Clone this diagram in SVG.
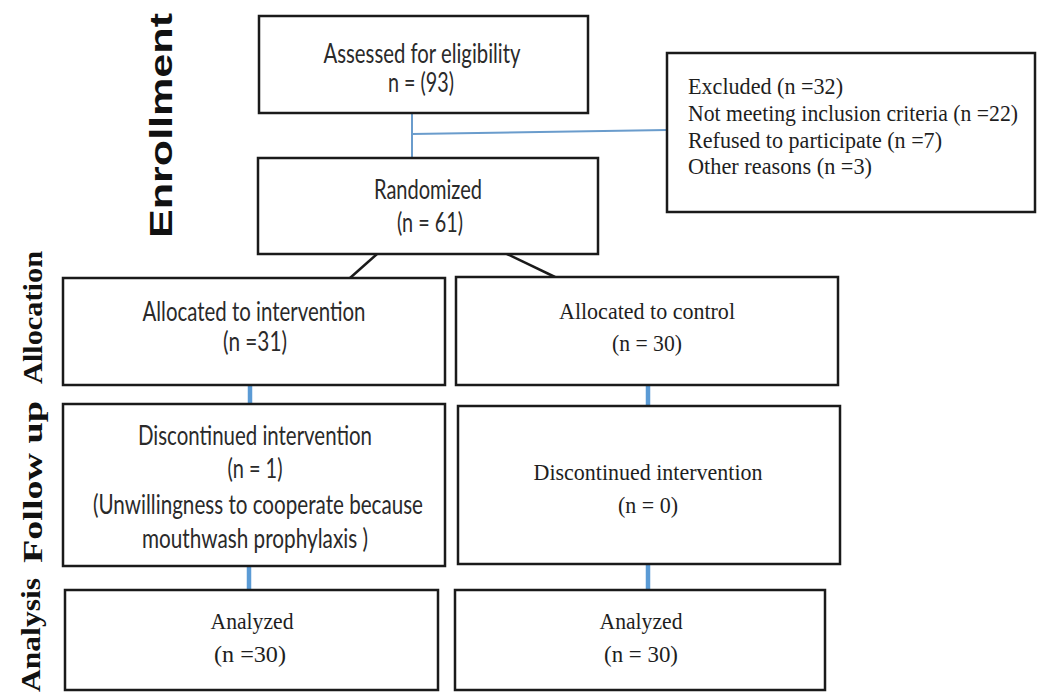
<svg xmlns="http://www.w3.org/2000/svg" width="1037" height="693" viewBox="0 0 1037 693">
<style>
.box{fill:#fff;stroke:#1a1a1a;stroke-width:2.5}
.sans{font-family:Lato,"Open Sans","Liberation Sans",sans-serif;font-size:26px;fill:#2a2a2a;text-anchor:middle}
.serif{font-family:"Liberation Serif","Times New Roman",serif;font-size:24px;fill:#1e1e1e;text-anchor:middle}
.exc{font-family:"Liberation Serif","Times New Roman",serif;font-size:24px;fill:#1e1e1e}
.side{font-family:"Liberation Serif","Times New Roman",serif;font-weight:bold;font-size:28px;fill:#111}
.enr{font-family:"Liberation Sans",Arial,sans-serif;font-weight:bold;font-size:31px;fill:#111}
.thin{stroke:#6a9ccc;stroke-width:2;fill:none}
.thick{stroke:#5b9bd5;stroke-width:4.5;fill:none}
.blk{stroke:#1a1a1a;stroke-width:2.5;fill:none}
</style>
<rect width="1037" height="693" fill="#fff"/>
<g id="labels">
<text class="enr" transform="translate(172,238) rotate(-90)" textLength="225" lengthAdjust="spacingAndGlyphs">Enrollment</text>
<text class="side" transform="translate(42,384) rotate(-90)" textLength="133" lengthAdjust="spacingAndGlyphs">Allocation</text>
<text class="side" transform="translate(42,563) rotate(-90)" textLength="162" lengthAdjust="spacingAndGlyphs">Follow up</text>
<text class="side" transform="translate(40,692) rotate(-90)" textLength="114" lengthAdjust="spacingAndGlyphs">Analysis</text>
</g>
<g id="connectors">
<line class="thin" x1="412" y1="113" x2="412" y2="158"/>
<line class="thin" x1="412" y1="134" x2="667" y2="130"/>
<line class="blk" x1="377" y1="254" x2="350" y2="278"/>
<line class="blk" x1="507" y1="254" x2="555" y2="277"/>
<line class="thick" x1="250" y1="385" x2="250" y2="404"/>
<line class="thick" x1="648" y1="385" x2="648" y2="406"/>
<line class="thick" x1="249" y1="566" x2="249" y2="590"/>
<line class="thick" x1="648" y1="564" x2="648" y2="590"/>
</g>
<g id="assessed">
<rect class="box" x="259" y="16" width="329" height="97"/>
<text class="sans" x="422" y="63" textLength="197" lengthAdjust="spacingAndGlyphs">Assessed for eligibility</text>
<text class="sans" x="421" y="92" textLength="66" lengthAdjust="spacingAndGlyphs">n = (93)</text>
</g>
<g id="excluded">
<rect class="box" x="667" y="53" width="368" height="159"/>
<text class="exc" x="688" y="94" textLength="155" lengthAdjust="spacingAndGlyphs">Excluded (n =32)</text>
<text class="exc" x="688" y="121" textLength="330" lengthAdjust="spacingAndGlyphs">Not meeting inclusion criteria (n =22)</text>
<text class="exc" x="688" y="148" textLength="254" lengthAdjust="spacingAndGlyphs">Refused to participate (n =7)</text>
<text class="exc" x="688" y="174" textLength="184" lengthAdjust="spacingAndGlyphs">Other reasons (n =3)</text>
</g>
<g id="randomized">
<rect class="box" x="258" y="158" width="340" height="96"/>
<text class="sans" x="428" y="199" textLength="108" lengthAdjust="spacingAndGlyphs">Randomized</text>
<text class="sans" x="430" y="232" textLength="66" lengthAdjust="spacingAndGlyphs">(n = 61)</text>
</g>
<g id="alloc-int">
<rect class="box" x="63" y="278" width="382" height="107"/>
<text class="sans" x="254" y="321" textLength="223" lengthAdjust="spacingAndGlyphs">Allocated to intervention</text>
<text class="sans" x="255" y="351" textLength="64" lengthAdjust="spacingAndGlyphs">(n =31)</text>
</g>
<g id="alloc-ctl">
<rect class="box" x="456" y="277" width="382" height="108"/>
<text class="serif" x="647" y="319" textLength="176" lengthAdjust="spacingAndGlyphs">Allocated to control</text>
<text class="serif" x="647" y="351" textLength="70" lengthAdjust="spacingAndGlyphs">(n = 30)</text>
</g>
<g id="follow-int">
<rect class="box" x="63" y="404" width="382" height="162"/>
<text class="sans" x="255" y="445" textLength="234" lengthAdjust="spacingAndGlyphs">Discontinued intervention</text>
<text class="sans" x="255" y="478" textLength="55" lengthAdjust="spacingAndGlyphs">(n = 1)</text>
<text class="sans" x="258" y="514" textLength="330" lengthAdjust="spacingAndGlyphs">(Unwillingness to cooperate because</text>
<text class="sans" x="255" y="548" textLength="226" lengthAdjust="spacingAndGlyphs">mouthwash prophylaxis )</text>
</g>
<g id="follow-ctl">
<rect class="box" x="458" y="406" width="382" height="158"/>
<text class="serif" x="648" y="480" textLength="229" lengthAdjust="spacingAndGlyphs">Discontinued intervention</text>
<text class="serif" x="648" y="513" textLength="60" lengthAdjust="spacingAndGlyphs">(n = 0)</text>
</g>
<g id="analysis-int">
<rect class="box" x="65" y="590" width="373" height="100"/>
<text class="serif" x="252" y="629" textLength="83" lengthAdjust="spacingAndGlyphs">Analyzed</text>
<text class="serif" x="250" y="662" textLength="72" lengthAdjust="spacingAndGlyphs">(n =30)</text>
</g>
<g id="analysis-ctl">
<rect class="box" x="455" y="590" width="370" height="100"/>
<text class="serif" x="641" y="629" textLength="83" lengthAdjust="spacingAndGlyphs">Analyzed</text>
<text class="serif" x="641" y="662" textLength="74" lengthAdjust="spacingAndGlyphs">(n = 30)</text>
</g>
</svg>
